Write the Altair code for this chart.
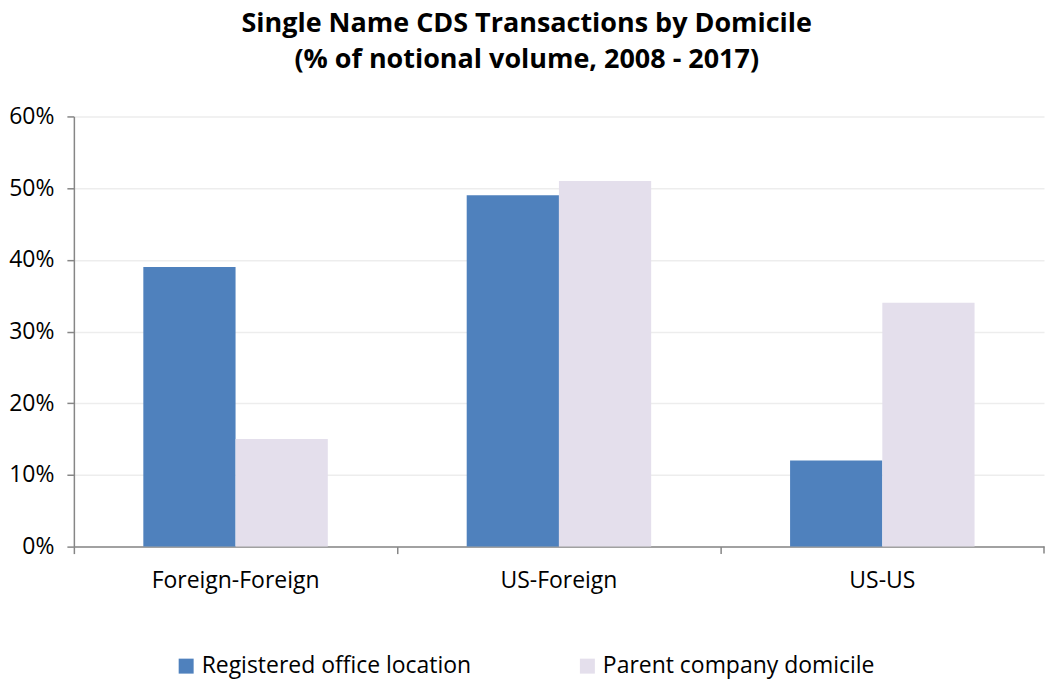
import altair as alt
import pandas as pd

categories = ["Foreign-Foreign", "US-Foreign", "US-US"]
series = ["Registered office location", "Parent company domicile"]
registered = [0.39, 0.49, 0.12]
parent = [0.15, 0.51, 0.34]
colors = ["#4F81BD", "#E4DFEC"]

rows = []
for c, r, p in zip(categories, registered, parent):
    rows.append({"cat": c, "series": series[0], "value": r})
    rows.append({"cat": c, "series": series[1], "value": p})
df = pd.DataFrame(rows)

FONT = "Open Sans"
FS = 23
W, H = 972, 431

bars = alt.Chart(df).mark_bar().encode(
    x=alt.X("cat:N", sort=categories, title=None,
            scale=alt.Scale(paddingInner=0, paddingOuter=0),
            axis=alt.Axis(labelAngle=0, bandPosition=0, labelFontSize=FS, labelFont=FONT,
                          labelColor="black", labelPadding=16, tickSize=7,
                          tickColor="#868686", domainColor="#868686", domainWidth=1.5, tickWidth=1.5,
                          grid=False)),
    xOffset=alt.XOffset("series:N", sort=series,
                        scale=alt.Scale(paddingInner=0, paddingOuter=0.753)),
    y=alt.Y("value:Q", title=None,
            scale=alt.Scale(domain=[0, 0.6], nice=False),
            axis=alt.Axis(format=".0%", values=[0, 0.1, 0.2, 0.3, 0.4, 0.5, 0.6],
                          labelFontSize=FS, labelFont=FONT, labelColor="black",
                          labelPadding=13, tickSize=7, tickColor="#868686", tickWidth=1.5,
                          domainColor="#868686", domainWidth=1.5,
                          gridColor="#EDEDED", gridWidth=1.5)),
    color=alt.Color("series:N", sort=series, title=None,
                    scale=alt.Scale(domain=series, range=colors),
                    legend=alt.Legend(orient="none", legendX=101, legendY=539,
                                      direction="horizontal", columns=2,
                                      symbolType="square", symbolSize=225, symbolStrokeWidth=0,
                                      labelFontSize=FS, labelFont=FONT, labelColor="black",
                                      columnPadding=104, labelLimit=400)),
)

end_tick = alt.Chart(pd.DataFrame({"a": [0]})).mark_rule(color="#868686", strokeWidth=1.5).encode(
    x=alt.value(W), y=alt.value(H), y2=alt.value(H + 7)
)

chart = alt.layer(bars, end_tick).properties(
    width=W, height=H,
    padding={"left": 0, "top": 1, "right": 0, "bottom": 4},
    title=alt.TitleParams(
        text=["Single Name CDS Transactions by Domicile", "(% of notional volume, 2008 - 2017)"],
        font=FONT, fontSize=27, fontWeight="bold", color="black",
        anchor="middle", frame="bounds", lineHeight=36, offset=32),
).configure_view(stroke=None)

chart.save("out.html", embed_options={"renderer": "svg", "actions": False})
